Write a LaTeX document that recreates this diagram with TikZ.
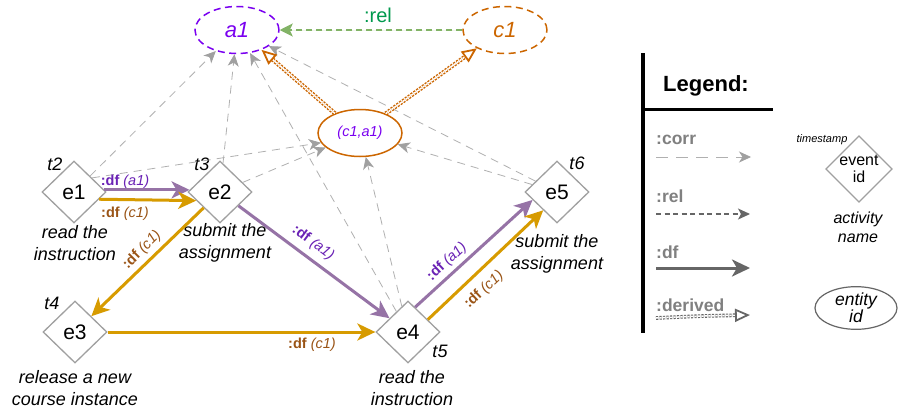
\documentclass[tikz,border=0pt]{standalone}
\usepackage{fontspec}
\setmainfont{Liberation Sans}
\usetikzlibrary{arrows.meta,shapes.geometric}
\definecolor{dfpurple}{HTML}{9673A6}
\definecolor{dforange}{HTML}{D79B00}
\definecolor{lblpurple}{HTML}{6A22B5}
\definecolor{lblbrown}{HTML}{9A5416}
\definecolor{aviolet}{HTML}{7A00F0}
\definecolor{corange}{HTML}{CC6600}
\definecolor{relgreen}{HTML}{82B366}
\definecolor{reltext}{HTML}{00994D}
\definecolor{corrgray}{HTML}{B0B0B0}
\definecolor{corrhead}{HTML}{A0A0A0}
\definecolor{evgray}{HTML}{A0A0A0}
\definecolor{leggray}{HTML}{808080}
\definecolor{legdark}{HTML}{666666}
\newcommand\fsz[2]{\fontsize{#1pt}{#2pt}\selectfont}
\tikzset{
  ev/.style={diamond, draw=evgray, line width=1.3pt, minimum width=64pt, minimum height=62pt, inner sep=0pt, font=\fsz{21}{24}, fill=white},
  ent/.style={ellipse, minimum width=84pt, minimum height=47pt, inner sep=0pt, line width=1.5pt, fill=white},
  tlab/.style={font=\fsz{18}{20}\itshape, inner sep=0pt},
  act/.style={font=\fsz{18}{21.5}\itshape, align=center, inner sep=0pt},
  dflab/.style={font=\fsz{14.5}{16}, inner sep=0pt},
  corr/.style={draw=corrgray, line width=0.8pt, dash pattern=on 8pt off 6pt, -{Stealth[length=12pt,width=11pt,inset=3.5pt,color=corrhead,fill=corrhead]}},
  dfarrow/.style={line width=3pt, -{Stealth[length=18pt,width=17pt,inset=5pt]}},
  relarrow/.style={line width=1.5pt, dash pattern=on 6pt off 4pt, -{Stealth[length=13pt,width=13pt,inset=3pt]}},
  derived/.style={line width=1.4pt, double=white, double distance=1.5pt, dash pattern=on 2.2pt off 1.3pt, -{Triangle[open,length=15pt,width=13pt,line width=1.8pt,fill=white]}},
  leglab/.style={font=\fsz{17.5}{20}\bfseries, text=leggray, anchor=west, inner sep=0pt},
}
\begin{document}
\begin{tikzpicture}[x=1pt,y=-1pt]
\useasboundingbox[fill=white] (0,0) rectangle (898,413);

% entity nodes
\node[ent, draw=aviolet, dash pattern=on 7pt off 4.5pt, text=aviolet, font=\fsz{22}{24}\itshape] (a1) at (237,30) {a1};
\node[ent, draw=corange, dash pattern=on 7pt off 4.5pt, text=corange, font=\fsz{22}{24}\itshape] (c1) at (505,30) {c1};
\node[ent, draw=corange, text=aviolet, font=\fsz{14.5}{16}\itshape] (ca) at (360,133) {(c1,a1)};

% event nodes
\node[ev] (e1) at (74,192) {e1};
\node[ev] (e2) at (220,192) {e2};
\node[ev] (e3) at (75,332) {e3};
\node[ev] (e4) at (408,332) {e4};
\node[ev] (e5) at (557,192) {e5};

% timestamps
\node[tlab] (t2) at (55,164) {t2};
\node[tlab] (t3) at (202,164) {t3};
\node[tlab] (t4) at (52,303) {t4};
\node[tlab] (t5) at (440,351) {t5};
\node[tlab] (t6) at (577,163) {t6};

% activity names
\node[act] (n1) at (75,243) {read the\\instruction};
\node[act] (n2) at (225,243) {submit the\\assignment};
\node[act] (n3) at (75,388) {release a new\\course instance};
\node[act] (n4) at (412,388) {read the\\instruction};
\node[act] (n5) at (557,254) {submit the\\assignment};

% corr edges
\draw[corr] (e1) -- (a1);
\draw[corr] (e1.38) -- (ca.194);
\draw[corr] (e2) -- (a1);
\draw[corr] (e2) -- (ca);
\draw[corr] (e4) -- (a1);
\draw[corr] (e4) -- (ca);
\draw[corr] (e5) -- (a1);
\draw[corr] (e5) -- (ca);

% rel
\draw[relarrow, draw=relgreen, fill=relgreen] (c1) -- (a1);
\node[font=\fsz{20}{22}, text=reltext] (rellab) at (378,15) {:rel};

% derived
\draw[derived, draw=corange] (ca.142) -- (a1.321);
\draw[derived, draw=corange] (ca.37) -- (c1.213);

% df edges
\draw[dfarrow, draw=dfpurple, fill=dfpurple] (e1.4) -- (e2.176);
\draw[dfarrow, draw=dforange, fill=dforange] (e1.-16) -- (e2.200);
\draw[dfarrow, draw=dforange, fill=dforange] (e2) -- (e3);
\draw[dfarrow, draw=dfpurple, fill=dfpurple] (e2) -- (e4);
\draw[dfarrow, draw=dforange, fill=dforange] (e3) -- (e4);
\draw[dfarrow, draw=dfpurple, fill=dfpurple] (e4.74) -- (e5.198);
\draw[dfarrow, draw=dforange, fill=dforange] (e4.32) -- (e5.233);

% df labels
\node[dflab, text=lblpurple] (d1) at (125,182) {\textbf{:df} \textit{(a1)}};
\node[dflab, text=lblbrown] (d2) at (125,214) {\textbf{:df} \textit{(c1)}};
\node[dflab, text=lblbrown, rotate=45] (d3) at (142,250) {\textbf{:df} \textit{(c1)}};
\node[dflab, text=lblpurple, rotate=-37] (d4) at (313,243) {\textbf{:df} \textit{(a1)}};
\node[dflab, text=lblbrown] (d5) at (312,345) {\textbf{:df} \textit{(c1)}};
\node[dflab, text=lblpurple, rotate=43] (d6) at (447,262) {\textbf{:df} \textit{(a1)}};
\node[dflab, text=lblbrown, rotate=43] (d7) at (484,290) {\textbf{:df} \textit{(c1)}};

% legend
\draw[line width=4pt] (643,53) -- (643,333);
\draw[line width=3pt] (643,109) -- (773,109);
\node[font=\fsz{22}{24}\bfseries, inner sep=0pt] (leg) at (706,86) {Legend:};

\node[leglab] (lcorr) at (656,140) {:corr};
\coordinate (lc1) at (656,157);
\coordinate (lc2) at (751,157);
\draw[corr, dash pattern=on 12pt off 8pt] (lc1) -- (lc2);

\node[leglab] (lrel) at (656,196) {:rel};
\coordinate (lr1) at (656,214);
\coordinate (lr2) at (750,214);
\draw[line width=1.2pt, draw=legdark, dash pattern=on 5pt off 3.5pt, -{Stealth[length=12pt,width=11pt,inset=3pt,color=legdark,fill=legdark]}] (lr1) -- (lr2);

\node[leglab] (ldf) at (656,252) {:df};
\coordinate (ld1) at (656,268);
\coordinate (ld2) at (750,268);
\draw[dfarrow, draw=legdark, fill=legdark] (ld1) -- (ld2);

\node[leglab] (lder) at (656,305) {:derived};
\coordinate (lv1) at (656,318);
\coordinate (lv2) at (750,315);
\draw[derived, draw=legdark, line width=1.1pt] (lv1) .. controls (700,316) .. (lv2);

\node[font=\fsz{11}{12}\itshape, inner sep=0pt] (lts) at (822,140) {timestamp};
\node[diamond, draw=evgray, line width=1.3pt, minimum width=64pt, minimum height=56pt, inner sep=0pt, font=\fsz{16}{17}, align=center] (lev) at (859,169) {event\\id};
\node[font=\fsz{16}{19}\itshape, align=center, inner sep=0pt] (lact) at (858,227) {activity\\name};
\node[ellipse, draw=legdark, line width=1.2pt, minimum width=82pt, minimum height=42pt, inner sep=0pt, font=\fsz{17.5}{15.5}\itshape, align=center] (lent) at (856,308) {entity\\id};
\end{tikzpicture}
\end{document}
